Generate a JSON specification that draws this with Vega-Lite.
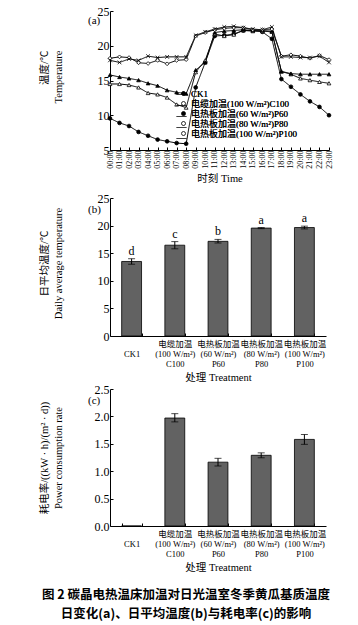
{
  "$schema": "https://vega.github.io/schema/vega-lite/v6.json",
  "background": "white",
  "padding": {"left": 37, "top": 5, "right": 5, "bottom": 5},
  "config": {
    "font": "Liberation Serif, Noto Sans CJK SC",
    "view": {"stroke": null},
    "axis": {
      "labelFont": "Liberation Serif, Noto Sans CJK SC",
      "titleFont": "Liberation Serif, Noto Sans CJK SC",
      "labelColor": "black", "titleColor": "black",
      "domainColor": "black", "tickColor": "black",
      "grid": false, "labelFontSize": 12, "titleFontSize": 10.5,
      "titleFontWeight": "normal", "tickSize": -3, "domainWidth": 1, "tickWidth": 1,
      "titleLineHeight": 14
    },
    "title": {"font": "Liberation Serif, Noto Sans CJK SC", "fontWeight": "normal", "color": "black"}
  },
  "title": {
    "text": ["图 2    碳晶电热温床加温对日光温室冬季黄瓜基质温度", "日变化(a)、日平均温度(b)与耗电率(c)的影响"],
    "orient": "bottom", "anchor": "middle", "font": "Noto Sans CJK SC", "fontSize": 12.5,
    "fontWeight": "bold", "lineHeight": 19, "offset": 16
  },
  "spacing": 48,
  "bounds": "flush",
  "vconcat": [
    {
      "width": 219, "height": 139,
      "title": {"text": "(a)", "anchor": "start", "frame": "group", "orient": "top", "offset": -21, "dx": -22, "fontSize": 11},
      "data": {"values": [
        {"t":"00:00","s":"CK1","v":9.55},{"t":"01:00","s":"CK1","v":8.9},{"t":"02:00","s":"CK1","v":8.45},{"t":"03:00","s":"CK1","v":7.6},{"t":"04:00","s":"CK1","v":7.05},{"t":"05:00","s":"CK1","v":6.5},{"t":"06:00","s":"CK1","v":6.25},{"t":"07:00","s":"CK1","v":6.0},{"t":"08:00","s":"CK1","v":5.9},{"t":"09:00","s":"CK1","v":14.0},{"t":"10:00","s":"CK1","v":17.6},{"t":"11:00","s":"CK1","v":21.4},{"t":"12:00","s":"CK1","v":21.5},{"t":"13:00","s":"CK1","v":21.7},{"t":"14:00","s":"CK1","v":22.2},{"t":"15:00","s":"CK1","v":22.2},{"t":"16:00","s":"CK1","v":22.0},{"t":"17:00","s":"CK1","v":21.0},{"t":"18:00","s":"CK1","v":15.2},{"t":"19:00","s":"CK1","v":14.1},{"t":"20:00","s":"CK1","v":13.0},{"t":"21:00","s":"CK1","v":12.0},{"t":"22:00","s":"CK1","v":11.2},{"t":"23:00","s":"CK1","v":10.0},
        {"t":"00:00","s":"电缆加温(100 W/m²)C100","v":14.5},{"t":"01:00","s":"电缆加温(100 W/m²)C100","v":14.5},{"t":"02:00","s":"电缆加温(100 W/m²)C100","v":14.35},{"t":"03:00","s":"电缆加温(100 W/m²)C100","v":14.0},{"t":"04:00","s":"电缆加温(100 W/m²)C100","v":13.2},{"t":"05:00","s":"电缆加温(100 W/m²)C100","v":13.0},{"t":"06:00","s":"电缆加温(100 W/m²)C100","v":12.55},{"t":"07:00","s":"电缆加温(100 W/m²)C100","v":11.55},{"t":"08:00","s":"电缆加温(100 W/m²)C100","v":11.1},{"t":"09:00","s":"电缆加温(100 W/m²)C100","v":16.2},{"t":"10:00","s":"电缆加温(100 W/m²)C100","v":17.9},{"t":"11:00","s":"电缆加温(100 W/m²)C100","v":21.7},{"t":"12:00","s":"电缆加温(100 W/m²)C100","v":21.4},{"t":"13:00","s":"电缆加温(100 W/m²)C100","v":21.6},{"t":"14:00","s":"电缆加温(100 W/m²)C100","v":22.2},{"t":"15:00","s":"电缆加温(100 W/m²)C100","v":22.1},{"t":"16:00","s":"电缆加温(100 W/m²)C100","v":22.1},{"t":"17:00","s":"电缆加温(100 W/m²)C100","v":22.0},{"t":"18:00","s":"电缆加温(100 W/m²)C100","v":16.3},{"t":"19:00","s":"电缆加温(100 W/m²)C100","v":15.9},{"t":"20:00","s":"电缆加温(100 W/m²)C100","v":15.3},{"t":"21:00","s":"电缆加温(100 W/m²)C100","v":15.05},{"t":"22:00","s":"电缆加温(100 W/m²)C100","v":14.8},{"t":"23:00","s":"电缆加温(100 W/m²)C100","v":14.6},
        {"t":"00:00","s":"电热板加温(60 W/m²)P60","v":15.8},{"t":"01:00","s":"电热板加温(60 W/m²)P60","v":15.5},{"t":"02:00","s":"电热板加温(60 W/m²)P60","v":15.3},{"t":"03:00","s":"电热板加温(60 W/m²)P60","v":15.05},{"t":"04:00","s":"电热板加温(60 W/m²)P60","v":14.6},{"t":"05:00","s":"电热板加温(60 W/m²)P60","v":14.25},{"t":"06:00","s":"电热板加温(60 W/m²)P60","v":13.6},{"t":"07:00","s":"电热板加温(60 W/m²)P60","v":13.3},{"t":"08:00","s":"电热板加温(60 W/m²)P60","v":13.1},{"t":"09:00","s":"电热板加温(60 W/m²)P60","v":16.5},{"t":"10:00","s":"电热板加温(60 W/m²)P60","v":17.6},{"t":"11:00","s":"电热板加温(60 W/m²)P60","v":21.9},{"t":"12:00","s":"电热板加温(60 W/m²)P60","v":22.1},{"t":"13:00","s":"电热板加温(60 W/m²)P60","v":22.2},{"t":"14:00","s":"电热板加温(60 W/m²)P60","v":22.3},{"t":"15:00","s":"电热板加温(60 W/m²)P60","v":22.2},{"t":"16:00","s":"电热板加温(60 W/m²)P60","v":22.2},{"t":"17:00","s":"电热板加温(60 W/m²)P60","v":22.1},{"t":"18:00","s":"电热板加温(60 W/m²)P60","v":16.3},{"t":"19:00","s":"电热板加温(60 W/m²)P60","v":16.0},{"t":"20:00","s":"电热板加温(60 W/m²)P60","v":15.9},{"t":"21:00","s":"电热板加温(60 W/m²)P60","v":15.9},{"t":"22:00","s":"电热板加温(60 W/m²)P60","v":15.9},{"t":"23:00","s":"电热板加温(60 W/m²)P60","v":15.9},
        {"t":"00:00","s":"电热板加温(80 W/m²)P80","v":18.2},{"t":"01:00","s":"电热板加温(80 W/m²)P80","v":18.4},{"t":"02:00","s":"电热板加温(80 W/m²)P80","v":18.3},{"t":"03:00","s":"电热板加温(80 W/m²)P80","v":17.55},{"t":"04:00","s":"电热板加温(80 W/m²)P80","v":17.45},{"t":"05:00","s":"电热板加温(80 W/m²)P80","v":17.9},{"t":"06:00","s":"电热板加温(80 W/m²)P80","v":17.4},{"t":"07:00","s":"电热板加温(80 W/m²)P80","v":17.9},{"t":"08:00","s":"电热板加温(80 W/m²)P80","v":18.0},{"t":"09:00","s":"电热板加温(80 W/m²)P80","v":21.4},{"t":"10:00","s":"电热板加温(80 W/m²)P80","v":21.9},{"t":"11:00","s":"电热板加温(80 W/m²)P80","v":22.3},{"t":"12:00","s":"电热板加温(80 W/m²)P80","v":22.5},{"t":"13:00","s":"电热板加温(80 W/m²)P80","v":22.6},{"t":"14:00","s":"电热板加温(80 W/m²)P80","v":22.6},{"t":"15:00","s":"电热板加温(80 W/m²)P80","v":22.3},{"t":"16:00","s":"电热板加温(80 W/m²)P80","v":22.3},{"t":"17:00","s":"电热板加温(80 W/m²)P80","v":22.4},{"t":"18:00","s":"电热板加温(80 W/m²)P80","v":18.5},{"t":"19:00","s":"电热板加温(80 W/m²)P80","v":18.7},{"t":"20:00","s":"电热板加温(80 W/m²)P80","v":18.5},{"t":"21:00","s":"电热板加温(80 W/m²)P80","v":18.2},{"t":"22:00","s":"电热板加温(80 W/m²)P80","v":18.6},{"t":"23:00","s":"电热板加温(80 W/m²)P80","v":18.0},
        {"t":"00:00","s":"电热板加温(100 W/m²)P100","v":17.9},{"t":"01:00","s":"电热板加温(100 W/m²)P100","v":17.6},{"t":"02:00","s":"电热板加温(100 W/m²)P100","v":18.1},{"t":"03:00","s":"电热板加温(100 W/m²)P100","v":17.9},{"t":"04:00","s":"电热板加温(100 W/m²)P100","v":18.5},{"t":"05:00","s":"电热板加温(100 W/m²)P100","v":18.3},{"t":"06:00","s":"电热板加温(100 W/m²)P100","v":18.4},{"t":"07:00","s":"电热板加温(100 W/m²)P100","v":18.4},{"t":"08:00","s":"电热板加温(100 W/m²)P100","v":18.4},{"t":"09:00","s":"电热板加温(100 W/m²)P100","v":21.5},{"t":"10:00","s":"电热板加温(100 W/m²)P100","v":22.0},{"t":"11:00","s":"电热板加温(100 W/m²)P100","v":22.4},{"t":"12:00","s":"电热板加温(100 W/m²)P100","v":22.7},{"t":"13:00","s":"电热板加温(100 W/m²)P100","v":22.8},{"t":"14:00","s":"电热板加温(100 W/m²)P100","v":22.6},{"t":"15:00","s":"电热板加温(100 W/m²)P100","v":22.4},{"t":"16:00","s":"电热板加温(100 W/m²)P100","v":22.3},{"t":"17:00","s":"电热板加温(100 W/m²)P100","v":22.7},{"t":"18:00","s":"电热板加温(100 W/m²)P100","v":18.4},{"t":"19:00","s":"电热板加温(100 W/m²)P100","v":18.4},{"t":"20:00","s":"电热板加温(100 W/m²)P100","v":18.3},{"t":"21:00","s":"电热板加温(100 W/m²)P100","v":18.3},{"t":"22:00","s":"电热板加温(100 W/m²)P100","v":18.5},{"t":"23:00","s":"电热板加温(100 W/m²)P100","v":17.6}
      ]},
      "encoding": {
        "x": {"field": "t", "type": "ordinal", "scale": {"type": "point", "padding": 0},
          "axis": {"title": "时刻 Time", "labelAngle": 270, "labelFontSize": 8, "labelPadding": 3, "titlePadding": 5, "titleFontSize": 10.5}},
        "y": {"field": "v", "type": "quantitative", "scale": {"domain": [5, 25], "nice": false, "zero": false},
          "axis": {"values": [5, 10, 15, 20, 25], "title": ["温度/℃", "Temperature"], "labelPadding": 4,
            "titlePadding": 34, "titleY": 39, "titleAngle": 270, "titleAlign": "right"}}
      },
      "layer": [
        {"mark": {"type": "line", "color": "black", "strokeWidth": 1},
          "encoding": {"strokeDash": {"field": "s", "type": "nominal",
            "scale": {"domain": ["CK1", "电缆加温(100 W/m²)C100", "电热板加温(60 W/m²)P60", "电热板加温(80 W/m²)P80", "电热板加温(100 W/m²)P100"], "range": [[1,0],[1,0],[1,0],[1,0],[1,0]]},
            "legend": {"orient": "none", "legendX": 66, "legendY": 78, "title": null, "symbolType": "stroke", "symbolSize": 100, "symbolStrokeColor": "black", "symbolStrokeWidth": 1, "labelExpr": "''", "labelFontSize": 9, "rowPadding": 0, "padding": 0}}}},
        {"mark": {"type": "point", "filled": true, "stroke": "black", "strokeWidth": 0.8, "size": 14, "opacity": 1},
          "encoding": {
            "shape": {"field": "s", "type": "nominal", "sort": ["CK1", "电缆加温(100 W/m²)C100", "电热板加温(60 W/m²)P60", "电热板加温(80 W/m²)P80", "电热板加温(100 W/m²)P100"],
              "scale": {"range": ["circle", "triangle-up", "triangle-up", "diamond", "M-1,-1L1,1M1,-1L-1,1"]},
              "legend": {"orient": "none", "legendX": 69, "legendY": 78, "title": null, "labelFontSize": 9, "labelFont": "Liberation Serif, Noto Sans CJK SC", "symbolStrokeColor": "black", "symbolStrokeWidth": 0.8, "symbolSize": 16, "rowPadding": 0, "labelOffset": 3, "padding": 0, "labelLimit": 300}},
            "fill": {"field": "s", "type": "nominal", "sort": ["CK1", "电缆加温(100 W/m²)C100", "电热板加温(60 W/m²)P60", "电热板加温(80 W/m²)P80", "电热板加温(100 W/m²)P100"],
              "scale": {"range": ["black", "white", "black", "white", "white"]},
              "legend": {"orient": "none", "legendX": 69, "legendY": 78, "title": null, "labelFontSize": 9, "labelFont": "Liberation Serif, Noto Sans CJK SC", "symbolStrokeColor": "black", "symbolStrokeWidth": 0.8, "symbolSize": 16, "rowPadding": 0, "labelOffset": 3, "padding": 0, "labelLimit": 300}}
          }}
      ]
    },
    {
      "spacing": 53,
      "bounds": "flush",
      "vconcat": [
        {
          "width": 216, "height": 138,
          "title": {"text": "(b)", "anchor": "start", "frame": "group", "orient": "top", "offset": -23, "dx": -22, "fontSize": 11},
          "data": {"values": [
            {"label": "|CK1|", "mean": 13.5, "lo": 13.0, "hi": 14.0, "sig": "d"},
            {"label": "电缆加温|(100 W/m²)|C100", "mean": 16.45, "lo": 15.8, "hi": 17.1, "sig": "c"},
            {"label": "电热板加温|(60 W/m²)|P60", "mean": 17.15, "lo": 16.85, "hi": 17.5, "sig": "b"},
            {"label": "电热板加温|(80 W/m²)|P80", "mean": 19.55, "lo": 19.45, "hi": 19.65, "sig": "a"},
            {"label": "电热板加温|(100 W/m²)|P100", "mean": 19.65, "lo": 19.4, "hi": 19.9, "sig": "a"}
          ]},
          "encoding": {
            "x": {"field": "label", "type": "nominal",
              "scale": {"domain": ["|CK1|", "电缆加温|(100 W/m²)|C100", "电热板加温|(60 W/m²)|P60", "电热板加温|(80 W/m²)|P80", "电热板加温|(100 W/m²)|P100"], "paddingInner": 0.54, "paddingOuter": 0.27},
              "axis": {"title": "处理 Treatment", "labelExpr": "split(datum.label, '|')", "labelAngle": 0, "labelFontSize": 8.5, "labelLineHeight": 10, "labelPadding": 6, "tickBand": "extent", "titlePadding": 5}}
          },
          "layer": [
            {"mark": {"type": "bar", "fill": "#626262", "stroke": "black", "strokeWidth": 0.8},
              "encoding": {"y": {"field": "mean", "type": "quantitative", "scale": {"domain": [0, 25], "nice": false},
                "axis": {"values": [0, 5, 10, 15, 20, 25], "title": ["日平均温度/℃", "Daily average temperature"], "labelPadding": 4,
                  "titlePadding": 34, "titleY": 65, "titleAngle": 270, "titleAlign": "center"}}}},
            {"mark": {"type": "errorbar", "ticks": true, "size": 7, "thickness": 1, "color": "black"},
              "encoding": {"y": {"field": "lo", "type": "quantitative",
                "axis": {"values": [0, 5, 10, 15, 20, 25], "title": ["日平均温度/℃", "Daily average temperature"], "labelPadding": 4,
                  "titlePadding": 34, "titleY": 65, "titleAngle": 270, "titleAlign": "center"}}, "y2": {"field": "hi"}}},
            {"mark": {"type": "text", "baseline": "bottom", "dy": -1, "fontSize": 12, "color": "black"},
              "encoding": {"y": {"field": "hi", "type": "quantitative",
                "axis": {"values": [0, 5, 10, 15, 20, 25], "title": ["日平均温度/℃", "Daily average temperature"], "labelPadding": 4,
                  "titlePadding": 34, "titleY": 65, "titleAngle": 270, "titleAlign": "center"}}, "text": {"field": "sig"}}}
          ]
        },
        {
          "width": 216, "height": 137,
          "title": {"text": "(c)", "anchor": "start", "frame": "group", "orient": "top", "offset": -23, "dx": -22, "fontSize": 11},
          "data": {"values": [
            {"label": "|CK1|", "mean": 0, "lo": null, "hi": null},
            {"label": "电缆加温|(100 W/m²)|C100", "mean": 1.97, "lo": 1.9, "hi": 2.05},
            {"label": "电热板加温|(60 W/m²)|P60", "mean": 1.165, "lo": 1.095, "hi": 1.235},
            {"label": "电热板加温|(80 W/m²)|P80", "mean": 1.29, "lo": 1.245, "hi": 1.335},
            {"label": "电热板加温|(100 W/m²)|P100", "mean": 1.58, "lo": 1.49, "hi": 1.67}
          ]},
          "encoding": {
            "x": {"field": "label", "type": "nominal",
              "scale": {"domain": ["|CK1|", "电缆加温|(100 W/m²)|C100", "电热板加温|(60 W/m²)|P60", "电热板加温|(80 W/m²)|P80", "电热板加温|(100 W/m²)|P100"], "paddingInner": 0.54, "paddingOuter": 0.27},
              "axis": {"title": "处理 Treatment", "labelExpr": "split(datum.label, '|')", "labelAngle": 0, "labelFontSize": 8.5, "labelLineHeight": 10, "labelPadding": 6, "tickBand": "extent", "titlePadding": 5}}
          },
          "layer": [
            {"mark": {"type": "bar", "fill": "#626262", "stroke": "black", "strokeWidth": 0.8},
              "encoding": {"y": {"field": "mean", "type": "quantitative", "scale": {"domain": [0, 2.5], "nice": false},
                "axis": {"values": [0, 0.5, 1, 1.5, 2, 2.5], "format": ".1f", "title": ["耗电率/((kW · h)/(m² · d))", "Power consumption rate"], "labelPadding": 4,
                  "titlePadding": 31, "titleAngle": 270, "titleAlign": "center"}}}},
            {"transform": [{"filter": "isValid(datum.lo)"}],
              "mark": {"type": "errorbar", "ticks": true, "size": 7, "thickness": 1, "color": "black"},
              "encoding": {"y": {"field": "lo", "type": "quantitative",
                "axis": {"values": [0, 0.5, 1, 1.5, 2, 2.5], "format": ".1f", "title": ["耗电率/((kW · h)/(m² · d))", "Power consumption rate"], "labelPadding": 4,
                  "titlePadding": 31, "titleAngle": 270, "titleAlign": "center"}}, "y2": {"field": "hi"}}}
          ]
        }
      ]
    }
  ]
}
